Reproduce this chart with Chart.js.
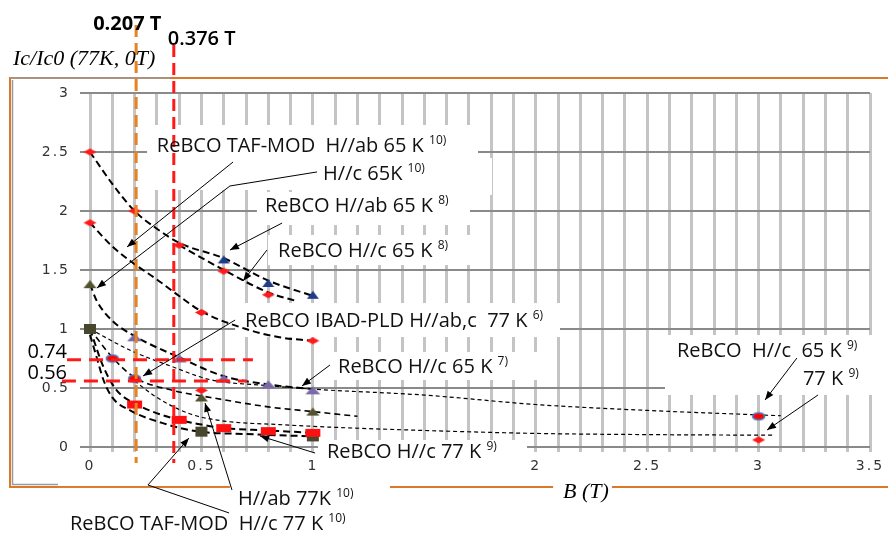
<!DOCTYPE html>
<html>
<head>
<meta charset="utf-8">
<script src="https://cdn.jsdelivr.net/npm/chart.js@4.4.1/dist/chart.umd.min.js"></script>
<style>
  html, body { margin: 0; padding: 0; background: #fff; }
</style>
</head>
<body>
<canvas id="chart" width="888" height="535"></canvas>
<script>
// measured points: B (T) vs Ic/Ic0 (77K, 0T)
const ab65K8X = [0.6, 0.8, 1.0];                 // ReBCO H//ab 65 K 8)  (blue triangles)
const ab65K8Y = [1.59, 1.39, 1.29];
const c65K8X = [0, 0.2, 0.4, 0.6, 0.8];          // ReBCO H//c 65 K 8)  (red diamonds)
const c65K8Y = [2.5, 2.0, 1.71, 1.49, 1.29];
const tafAb65X = [0, 0.5, 1.0];                  // TAF-MOD H//ab 65 K 10)
const tafAb65Y = [1.9, 1.14, 0.9];
const tafC65X = [0, 0.5, 1.0];                   // TAF-MOD H//c 65 K 10)
const tafC65Y = [1.38, 0.42, 0.30];
const tafC77X = [0, 0.5, 1.0];                   // TAF-MOD H//c 77 K 10)
const tafC77Y = [1.0, 0.13, 0.09];
const tafAb77X = [0.5];                          // TAF-MOD H//ab 77 K 10)
const tafAb77Y = [0.48];
const c65K7X = [0.2, 0.4, 0.6, 0.8, 1.0];        // ReBCO H//c 65 K 7)
const c65K7Y = [0.93, 0.75, 0.58, 0.53, 0.48];
const c77K9X = [0.2, 0.4, 0.6, 0.8, 1.0];        // ReBCO H//c 77 K 9)
const c77K9Y = [0.36, 0.23, 0.16, 0.135, 0.12];
const ibadX = [0.1, 0.2];                        // IBAD-PLD 77 K 6)
const ibadY = [0.75, 0.58];
const c65K9X = [3.0];
const c65K9Y = [0.26];
const c77K9farX = [3.0];
const c77K9farY = [0.06];

// dashed fit curves
const fitAb65X = [0, 0.1, 0.2, 0.3, 0.4, 0.6, 0.8, 1.0];
const fitAb65Y = [2.5, 2.23, 2.0, 1.85, 1.73, 1.6, 1.41, 1.28];
const fitC65X = [0.4, 0.6, 0.8, 0.92];
const fitC65Y = [1.71, 1.5, 1.31, 1.24];
const fitTafAb65X = [0, 0.1, 0.2, 0.3, 0.4, 0.5, 0.7, 0.85, 1.0];
const fitTafAb65Y = [1.9, 1.7, 1.55, 1.42, 1.28, 1.15, 1.0, 0.93, 0.9];
const fitTafC65X = [0, 0.03, 0.1, 0.2, 0.4, 0.6, 0.8, 1.0];
const fitTafC65Y = [1.38, 1.24, 1.07, 0.94, 0.76, 0.6, 0.53, 0.49];
const fit65K9X = [0, 0.18, 0.37, 0.54, 0.8, 1.0, 1.5, 2.0, 2.5, 3.1];
const fit65K9Y = [1.0, 0.82, 0.68, 0.57, 0.52, 0.49, 0.44, 0.36, 0.31, 0.265];
const fitIbadX = [0, 0.1, 0.2, 0.37, 0.54, 0.8, 1.0, 1.2];
const fitIbadY = [1.0, 0.76, 0.59, 0.48, 0.42, 0.34, 0.3, 0.26];
const fit77K9X = [0.2, 0.3, 0.45, 0.6, 0.85, 1.06, 1.5, 2.0, 2.5, 3.07];
const fit77K9Y = [0.56, 0.42, 0.28, 0.22, 0.19, 0.17, 0.14, 0.115, 0.105, 0.10];
const fitC77X = [0, 0.06, 0.12, 0.2, 0.36, 0.5, 0.6, 0.8, 1.0];
const fitC77Y = [1.0, 0.68, 0.48, 0.37, 0.25, 0.19, 0.16, 0.14, 0.12];
const fitTafC77X = [0, 0.03, 0.06, 0.1, 0.18, 0.33, 0.49, 0.7, 1.0];
const fitTafC77Y = [0.95, 0.76, 0.57, 0.42, 0.31, 0.2, 0.13, 0.11, 0.09];

// marked field values and Ic ratios
const fieldMarks = [0.207, 0.376];
const fieldLabels = ['0.207 T', '0.376 T'];
const ratioMarks = [0.74, 0.56];
const ratioLabels = ['0.74', '0.56'];

// annotation text (data coords of text start / baseline)
const noteText = [
  ['ReBCO TAF-MOD  H//ab 65 K ', '10)'],
  ['H//c 65K ', '10)'],
  ['ReBCO H//ab 65 K ', '8)'],
  ['ReBCO H//c 65 K ', '8)'],
  ['ReBCO IBAD-PLD H//ab,c  77 K ', '6)'],
  ['ReBCO H//c 65 K ', '7)'],
  ['ReBCO H//c 77 K ', '9)'],
  ['H//ab 77K ', '10)'],
  ['ReBCO TAF-MOD  H//c 77 K ', '10)'],
  ['ReBCO  H//c  65 K ', '9)'],
  ['77 K ', '9)']
];
const noteAt = [
  [0.30, 2.50], [1.046, 2.263], [0.785, 1.992], [0.844, 1.61], [0.696, 1.017],
  [1.113, 0.627], [1.063, -0.093], [0.664, -0.492], [-0.09, -0.703], [2.634, 0.763], [3.199, 0.525]
];
// white boxes behind the notes: [x1, yTop, x2, yBottom]
const noteBoxes = [
  [0.256, 2.729, 1.741, 2.178], [0.987, 2.449, 1.804, 2.136], [0.749, 2.161, 1.705, 1.881],
  [0.799, 1.797, 1.705, 1.542], [0.651, 1.22, 2.109, 0.932], [1.041, 0.805, 2.019, 0.568],
  [1.023, 0.059, 1.961, -0.195], [0.628, -0.263, 1.346, -0.551], [-0.144, -0.347, 1.234, -0.76],
  [2.58, 0.949, 3.509, 0.441], [2.078, -0.195, 2.342, -0.492]
];
// leader arrows, tip is the last point
const arrows = [
  [[0.642, 2.415], [0.166, 1.695]],
  [[1.019, 2.331], [0.628, 2.212], [0.031, 1.347]],
  [[0.862, 1.898], [0.628, 1.669]],
  [[0.794, 1.669], [0.687, 1.407]],
  [[0.651, 1.076], [0.238, 0.602]],
  [[1.077, 0.695], [0.951, 0.517]],
  [[1.010, -0.051], [0.763, 0.093]],
  [[0.637, -0.364], [0.516, 0.373]],
  [[0.624, -0.559], [0.260, -0.322], [0.444, 0.076]],
  [[3.172, 0.754], [3.029, 0.398]],
  [[3.267, 0.441], [3.038, 0.144]]
];

function pts(xs, ys) { return xs.map((x, i) => ({x: x, y: ys[i]})); }

function marker(shape, w, h, fill, stroke) {
  const c = document.createElement('canvas');
  c.width = w + 2; c.height = h + 2;
  const g = c.getContext('2d');
  const cx = c.width / 2, cy = c.height / 2;
  g.fillStyle = fill;
  g.beginPath();
  if (shape === 'tri') { g.moveTo(cx, 1); g.lineTo(w + 1, h + 1); g.lineTo(1, h + 1); }
  else if (shape === 'diamond') { g.moveTo(1, cy); g.lineTo(cx, 1); g.lineTo(w + 1, cy); g.lineTo(cx, h + 1); }
  else if (shape === 'rect') { g.rect(1, 1, w, h); }
  else { g.ellipse(cx, cy, w / 2 - 0.5, h / 2 - 0.5, 0, 0, Math.PI * 2); }
  g.closePath();
  g.fill();
  if (stroke) { g.strokeStyle = stroke; g.lineWidth = 1.6; g.stroke(); }
  return c;
}

const mBlueTri = marker('tri', 12, 8, '#1f3c88');
const mRedDia = marker('diamond', 13, 7, '#ff1a1a');
const mOliveTri = marker('tri', 13, 8, '#55532f');
const mDarkSq = marker('rect', 12, 10, '#47472f');
const mPurpleTri = marker('tri', 15, 8, '#7a69a8');
const mRedSq = marker('rect', 15, 8, '#ff1010');
const mRing = marker('ellipse', 13, 8, '#ff0000', '#4a7ec4');

function dots(xs, ys, img) {
  return {data: pts(xs, ys), pointStyle: img, pointRadius: 6, showLine: false, clip: false};
}
function fit(xs, ys, w, dash) {
  return {
    data: pts(xs, ys), showLine: true, borderColor: '#000', borderWidth: w, borderDash: dash,
    pointRadius: 0, cubicInterpolationMode: 'monotone', fill: false, clip: false
  };
}

const datasets = [
  dots(c77K9X, c77K9Y, mRedSq),
  dots(tafC77X, tafC77Y, mDarkSq),
  dots(tafC65X, tafC65Y, mOliveTri),
  dots(tafAb77X, tafAb77Y, mRedDia),
  dots(c65K7X, c65K7Y, mPurpleTri),
  dots(ibadX, ibadY, mRing),
  dots(c65K9X, c65K9Y, mRing),
  dots(c77K9farX, c77K9farY, mRedDia),
  dots(ab65K8X, ab65K8Y, mBlueTri),
  dots(c65K8X, c65K8Y, mRedDia),
  dots(tafAb65X, tafAb65Y, mRedDia),
  fit(fitAb65X, fitAb65Y, 2, [7, 4]),
  fit(fitC65X, fitC65Y, 2, [7, 4]),
  fit(fitTafAb65X, fitTafAb65Y, 2, [7, 4]),
  fit(fitTafC65X, fitTafC65Y, 2, [7, 4]),
  fit(fit65K9X, fit65K9Y, 1.2, [4, 3]),
  fit(fitIbadX, fitIbadY, 1.6, [6, 4]),
  fit(fit77K9X, fit77K9Y, 1.2, [4, 3]),
  fit(fitC77X, fitC77Y, 2, [7, 4]),
  fit(fitTafC77X, fitTafC77Y, 2, [7, 4])
];

function arrowHead(ctx, x0, y0, x1, y1) {
  const a = Math.atan2(y1 - y0, x1 - x0), L = 9, W = 3.5;
  ctx.beginPath();
  ctx.moveTo(x1, y1);
  ctx.lineTo(x1 - L * Math.cos(a) + W * Math.sin(a), y1 - L * Math.sin(a) - W * Math.cos(a));
  ctx.lineTo(x1 - L * Math.cos(a) - W * Math.sin(a), y1 - L * Math.sin(a) + W * Math.cos(a));
  ctx.closePath();
  ctx.fill();
}

const deco = {
  id: 'deco',
  beforeDraw(chart) {
    const ctx = chart.ctx;
    ctx.save();
    ctx.fillStyle = '#fff';
    ctx.fillRect(0, 0, chart.width, chart.height);
    // outer frame
    ctx.strokeStyle = '#d97a2b';
    ctx.lineWidth = 2;
    ctx.strokeRect(10, 78, chart.width, 409);
    ctx.strokeStyle = '#9a9a9a';
    ctx.lineWidth = 1.5;
    ctx.beginPath();
    ctx.moveTo(12.5, 80); ctx.lineTo(12.5, 485);
    ctx.moveTo(12, 484.5); ctx.lineTo(58, 484.5);
    ctx.moveTo(10, 78); ctx.lineTo(170, 78);
    ctx.stroke();
    ctx.restore();
    ctx.letterSpacing = '2px';
  },
  beforeDatasetsDraw(chart) {
    const ctx = chart.ctx, xs = chart.scales.x, ys = chart.scales.y;
    ctx.letterSpacing = '0px';
    ctx.save();
    ctx.fillStyle = '#fff';
    noteBoxes.forEach(b => {
      const x1 = xs.getPixelForValue(b[0]), y1 = ys.getPixelForValue(b[1]);
      const x2 = xs.getPixelForValue(b[2]), y2 = ys.getPixelForValue(b[3]);
      ctx.fillRect(x1, y1, x2 - x1, y2 - y1);
    });
    ctx.restore();
  },
  afterDatasetsDraw(chart) {
    const ctx = chart.ctx, xs = chart.scales.x, ys = chart.scales.y, area = chart.chartArea;
    ctx.save();
    // marked field lines
    const fieldColors = ['#e8821e', '#ff1a1a'];
    const fieldTops = [area.top - 68, area.top - 48];
    fieldMarks.forEach((v, i) => {
      const px = xs.getPixelForValue(v);
      ctx.strokeStyle = fieldColors[i];
      ctx.lineWidth = 3;
      ctx.setLineDash([12, 6]);
      ctx.beginPath();
      ctx.moveTo(px, fieldTops[i]);
      ctx.lineTo(px, area.bottom + 16);
      ctx.stroke();
    });
    // marked ratio lines
    const ratioFrom = [-0.103, -0.126], ratioTo = [0.731, 0.704];
    ratioMarks.forEach((v, i) => {
      const py = ys.getPixelForValue(v);
      ctx.strokeStyle = '#ff1a1a';
      ctx.lineWidth = 3;
      ctx.setLineDash([14, 8]);
      ctx.beginPath();
      ctx.moveTo(xs.getPixelForValue(ratioFrom[i]), py);
      ctx.lineTo(xs.getPixelForValue(ratioTo[i]), py);
      ctx.stroke();
    });
    ctx.setLineDash([]);
    // leader arrows
    ctx.strokeStyle = '#000';
    ctx.fillStyle = '#000';
    ctx.lineWidth = 1;
    arrows.forEach(a => {
      const p = a.map(q => [xs.getPixelForValue(q[0]), ys.getPixelForValue(q[1])]);
      ctx.beginPath();
      ctx.moveTo(p[0][0], p[0][1]);
      for (let i = 1; i < p.length; i++) ctx.lineTo(p[i][0], p[i][1]);
      ctx.stroke();
      const n = p.length;
      arrowHead(ctx, p[n - 2][0], p[n - 2][1], p[n - 1][0], p[n - 1][1]);
    });
    // notes
    ctx.fillStyle = '#111';
    ctx.textBaseline = 'alphabetic';
    ctx.textAlign = 'left';
    noteText.forEach((t, i) => {
      const x = xs.getPixelForValue(noteAt[i][0]), y = ys.getPixelForValue(noteAt[i][1]);
      ctx.font = '20px "Open Sans"';
      ctx.fillText(t[0], x, y);
      const w = ctx.measureText(t[0]).width;
      ctx.font = '12px "Open Sans"';
      ctx.fillText(t[1], x + w, y - 8);
    });
    // field labels
    ctx.fillStyle = '#000';
    ctx.font = 'bold 20px "Open Sans"';
    ctx.fillText(fieldLabels[0], xs.getPixelForValue(fieldMarks[0]) - 43, area.top - 63);
    ctx.font = '600 20px "Open Sans"';
    ctx.fillText(fieldLabels[1], xs.getPixelForValue(fieldMarks[1]) - 6, area.top - 48);
    // ratio labels
    ctx.font = '20px "Open Sans"';
    ctx.textAlign = 'right';
    ratioMarks.forEach((v, i) => {
      ctx.fillText(ratioLabels[i], area.left - 23, ys.getPixelForValue(v) - 2);
    });
    // axis titles
    ctx.textAlign = 'left';
    ctx.font = 'italic 22px "Liberation Serif"';
    ctx.fillText('Ic/Ic0 (77K, 0T)', 13, area.top - 28);
    ctx.fillText('B (T)', 563, area.bottom + 51);
    ctx.restore();
  }
};

new Chart(document.getElementById('chart'), {
  type: 'scatter',
  data: {datasets: datasets},
  options: {
    responsive: false,
    animation: false,
    events: [],
    layout: {padding: {left: 0, right: 18, top: 93, bottom: 48}},
    plugins: {legend: {display: false}, tooltip: {enabled: false}},
    scales: {
      x: {
        type: 'linear', min: 0, max: 3.5,
        afterFit: s => { s.height = 40; },
        border: {display: false},
        grid: {color: '#c4c4c4', lineWidth: 3, tickLength: 5},
        ticks: {
          stepSize: 0.1, maxTicksLimit: 100, autoSkip: false, maxRotation: 0, padding: 6,
          color: '#333', font: {family: 'DejaVu Sans', size: 14},
          callback: v => (Math.abs(v * 2 - Math.round(v * 2)) < 1e-6 ? String(Math.round(v * 10) / 10) : '')
        }
      },
      y: {
        type: 'linear', min: 0, max: 3,
        afterFit: s => { s.width = 90; },
        border: {display: false},
        grid: {color: '#8a8a8a', lineWidth: 2, tickLength: 10},
        ticks: {
          stepSize: 0.5, padding: 10, color: '#333', font: {family: 'DejaVu Sans', size: 14},
          callback: v => String(Math.round(v * 10) / 10)
        }
      }
    }
  },
  plugins: [deco]
});
</script>
</body>
</html>
